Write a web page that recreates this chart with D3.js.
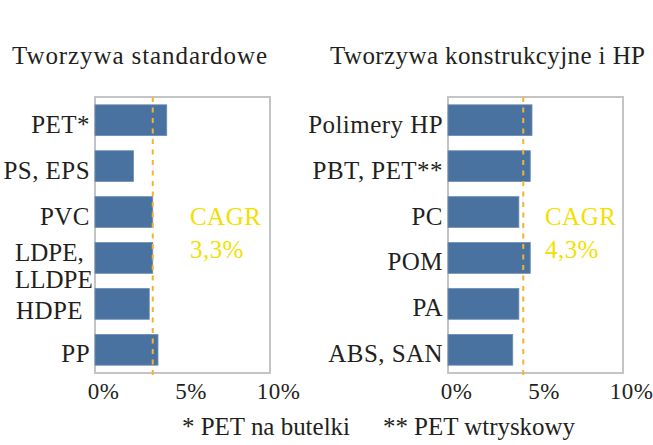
<!DOCTYPE html>
<html>
<head>
<meta charset="utf-8">
<script src="https://cdn.jsdelivr.net/npm/d3@7"></script>
<style>
  html, body { margin: 0; padding: 0; background: #ffffff; }
  svg { display: block; }
</style>
</head>
<body>
<svg id="chart" width="653" height="445"></svg>
<script>
// ---- data ----
const titleStandard = "Tworzywa standardowe";
const categoriesStandard = ["PET*", "PS, EPS", "PVC", "LDPE,\nLLDPE", "HDPE", "PP"];
const valuesStandard = [4.1, 2.2, 3.3, 3.3, 3.1, 3.6];
const cagrStandard = 3.3;
const cagrLabelStandard = ["CAGR", "3,3%"];

const titleEngineering = "Tworzywa konstrukcyjne i HP";
const categoriesEngineering = ["Polimery HP", "PBT, PET**", "PC", "POM", "PA", "ABS, SAN"];
const valuesEngineering = [4.8, 4.7, 4.05, 4.7, 4.05, 3.7];
const cagrEngineering = 4.3;
const cagrLabelEngineering = ["CAGR", "4,3%"];

const tickValues = [0, 5, 10];
const footnotes = ["* PET na butelki", "** PET wtryskowy"];

// ---- drawing ----
const svg = d3.select("#chart");
const BAR = "#4a72a0", FRAME = "#c4c4c4", LINE = "#f2b431", CAGR_TXT = "#f2e000", INK = "#231f20";
const FONT = '"Liberation Serif", "Times New Roman", serif';
const FS = 25, FS_TICK = 23, LS = 0.45;

function txt(parent, size, color) {
  return parent.append("text")
    .style("font-family", FONT).style("font-size", size + "px")
    .style("letter-spacing", LS + "px").style("fill", color || INK);
}
// stretch a text to the width it has in the reference
function fitWidth(sel, w) {
  sel.style("letter-spacing", "0px").attr("textLength", w).attr("lengthAdjust", "spacing");
  return sel;
}

function panel(opts) {
  const { x0, title, titleX, titleW, cats, vals, cagr, cagrLabel, cagrX, labelRight, labelLeft } = opts;
  const top = 97, bottom = 373, width = 175;
  const x = d3.scaleLinear().domain([0, 10]).range([x0, x0 + width]);
  const y = d3.scaleBand().domain(cats).range([top, bottom]).paddingInner(0.33).paddingOuter(0.17);
  const g = svg.append("g");

  fitWidth(txt(g, FS).attr("x", titleX).attr("y", 64).text(title), titleW);

  // frame
  g.append("rect").attr("x", x0).attr("y", top).attr("width", width).attr("height", bottom - top)
    .attr("fill", "#fff").attr("stroke", FRAME).attr("stroke-width", 2);

  // bars
  g.selectAll("rect.bar").data(cats).join("rect").attr("class", "bar")
    .attr("x", x(0)).attr("y", d => y(d))
    .attr("width", (d, i) => x(vals[i]) - x(0))
    .attr("height", y.bandwidth())
    .attr("fill", BAR).attr("stroke", "#6a8db5").attr("stroke-width", 0.8);

  // CAGR line
  g.append("line").attr("x1", x(cagr)).attr("x2", x(cagr))
    .attr("y1", top).attr("y2", bottom + 2)
    .attr("stroke", LINE).attr("stroke-width", 2).attr("stroke-dasharray", "5,5.5");

  // CAGR text
  cagrLabel.forEach((t, i) => {
    txt(g, FS, CAGR_TXT).attr("x", cagrX).attr("y", 225 + i * 33).text(t);
  });

  // category labels
  cats.forEach((c, i) => {
    const cy = y(c) + y.bandwidth() / 2;
    const lines = c.split("\n");
    if (lines.length > 1) {
      const t = txt(g, FS).style("letter-spacing", "0px");
      lines.forEach((l, j) => {
        t.append("tspan").attr("x", labelLeft - 1).attr("y", cy + 3 + j * 27).text(l);
      });
    } else if (c === "HDPE") {
      txt(g, FS).attr("x", labelLeft).attr("y", cy + 15).text(c);
    } else {
      txt(g, FS).attr("x", labelRight).attr("y", cy + 12.5).attr("text-anchor", "end").text(c);
    }
  });

  // x axis
  const axis = d3.axisBottom(x).tickValues(tickValues).tickSize(0).tickFormat(d => d + "%");
  const ax = g.append("g").attr("transform", `translate(0, ${bottom})`).call(axis);
  ax.select(".domain").remove();
  ax.selectAll("text")
    .style("font-family", FONT).style("font-size", FS_TICK + "px")
    .style("letter-spacing", LS + "px").style("fill", INK)
    .attr("dx", 8).attr("y", 26).attr("dy", 0);
}

panel({ x0: 95, title: titleStandard, titleX: 12, titleW: 255, cats: categoriesStandard, vals: valuesStandard,
        cagr: cagrStandard, cagrLabel: cagrLabelStandard, cagrX: 190, labelRight: 90, labelLeft: 16 });
panel({ x0: 448, title: titleEngineering, titleX: 330, titleW: 315, cats: categoriesEngineering, vals: valuesEngineering,
        cagr: cagrEngineering, cagrLabel: cagrLabelEngineering, cagrX: 545, labelRight: 443, labelLeft: 308 });

// footnotes
fitWidth(txt(svg, FS).attr("x", 182).attr("y", 435).text(footnotes[0]), 168);
fitWidth(txt(svg, FS).attr("x", 383).attr("y", 435).text(footnotes[1]), 192);
</script>
</body>
</html>
